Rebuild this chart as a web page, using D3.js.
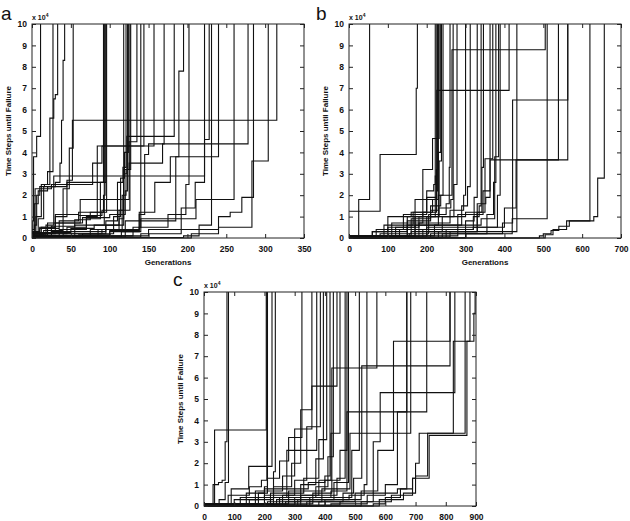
<!DOCTYPE html>
<html lang="en">
  <head>
    <meta charset="utf-8" />
    <title>Time steps until failure</title>
    <script type="text/javascript" src="https://cdn.jsdelivr.net/npm/d3@7"></script>
    <style>
      body { margin: 0; background: white; }
      text { font-family: "Liberation Sans", Arial, sans-serif; fill: #111; }
    </style>
  </head>
  <body>
    <script type="text/javascript">
// values in units of 10^4 time steps; a run ends when it reaches 10
var yTicks = d3.range(0, 11);
var xTicksA = d3.range(0, 351, 50);
var xTicksB = d3.range(0, 701, 100);
var xTicksC = d3.range(0, 901, 100);

var runsA = [
  [[0,0],[1,0.8],[2,3.8],[6,4.75],[11,10]],
  [[0,0.1],[3,0.6],[6,2.0],[10,2.4],[16,2.5],[20,3.1],[27,10]],
  [[0,0.2],[5,1.0],[12,2.5],[23,5.6],[28,6.5],[30,6.7],[33,10]],
  [[0,0.3],[8,0.9],[15,2.4],[30,2.6],[36,3.5],[38,5.5],[40,8.3],[42,10]],
  [[0,0.1],[12,0.5],[30,1.0],[45,2.7],[52,5.5],[315,10]],
  [[0,0.2],[20,0.7],[40,2.3],[48,4.2],[53,10]],
  [[0,0.05],[25,0.3],[55,0.6],[93,10]],
  [[0,0.1],[35,0.4],[70,0.9],[88,2.6],[95,10]],
  [[0,0.15],[18,0.6],[28,2.9],[222,10]],
  [[0,0.2],[45,0.5],[70,1.0],[84,4.3],[157,10]],
  [[0,0.1],[55,0.3],[95,0.8],[110,2.6],[117,3.3],[121,10]],
  [[0,0.05],[65,0.2],[105,1.0],[114,2.8],[119,4.0],[124,10]],
  [[0,0.1],[75,0.4],[112,1.3],[118,3.0],[122,4.75],[183,10]],
  [[0,0.1],[85,0.4],[116,2.0],[121,3.2],[127,10]],
  [[0,0.2],[95,0.6],[118,3.2],[125,4.5],[135,10]],
  [[0,0.05],[115,0.3],[138,1.1],[145,3.9],[150,4.4],[170,10]],
  [[0,0.1],[40,0.2],[90,0.4],[138,1.2],[158,2.6],[178,3.8],[189,7.8],[195,10]],
  [[0,0.3],[4,2.3],[25,2.5],[55,2.5],[78,3.5],[90,4.3],[144,10]],
  [[0,0.2],[30,0.7],[62,1.8],[125,3.5],[168,4.4],[278,10]],
  [[0,0.1],[130,0.5],[175,1.1],[198,2.5],[202,10]],
  [[0,0.05],[140,0.2],[192,1.4],[210,2.6],[222,4.6],[228,10]],
  [[0,0.1],[100,0.3],[140,0.9],[211,1.8],[260,10]],
  [[0,0.02],[195,0.1],[215,0.6],[231,10]],
  [[0,0.1],[150,0.4],[240,1.0],[255,1.2],[270,1.9],[285,10]],
  [[0,0],[205,0.2],[240,0.5],[283,3.6],[304,10]],
  [[0,0.05],[120,0.8],[185,3.8],[240,10]],
  [[0,0.1],[10,0.5],[30,1.1],[60,1.2],[92,2.0],[94,10]],
  [[0,0.4],[3,1.6],[8,2.2],[20,2.4],[45,2.6],[92,10]],
  [[0,0.15],[15,0.35],[40,0.7],[65,0.95],[100,1.1],[120,2.2],[123,10]],
  [[0,0.05],[20,0.25],[50,0.45],[80,0.6],[112,0.9],[118,10]],
  [[0,0.3],[10,0.45],[35,0.8],[60,1.05],[90,1.3],[126,10]],
  [[0,0.08],[60,0.15],[100,0.35],[138,0.5],[140,10]],
  [[0,0.25],[25,0.55],[55,0.85],[75,1.2],[96,10]]
];

var runsB = [
  [[0,1.25],[80,3.9],[173,7.0],[176,10]],
  [[0,0],[25,1.8],[53,10]],
  [[0,0.05],[60,0.3],[150,1.0],[190,3.2],[215,4.65],[232,10]],
  [[0,0.05],[70,0.4],[140,1.1],[200,2.2],[218,2.5],[222,10]],
  [[0,0.1],[90,0.6],[165,1.2],[215,1.8],[226,6.9],[412,10]],
  [[0,0],[100,0.5],[180,1.0],[222,2.9],[226,10]],
  [[0,0.02],[80,0.2],[160,0.9],[210,1.3],[230,4.0],[236,10]],
  [[0,0.05],[110,0.7],[190,1.2],[225,3.2],[230,10]],
  [[0,0.1],[120,0.5],[170,1.8],[230,2.0],[265,8.8],[505,10]],
  [[0,0],[130,0.4],[200,1.0],[232,3.6],[238,10]],
  [[0,0.05],[150,0.8],[210,1.5],[236,2.0],[242,10]],
  [[0,0.1],[155,0.2],[205,1.1],[250,1.6],[258,3.3],[260,10]],
  [[0,0],[170,0.6],[230,1.4],[262,1.8],[268,10]],
  [[0,0.05],[160,0.3],[240,1.0],[270,2.5],[278,10]],
  [[0,0.02],[200,0.5],[280,1.1],[345,2.2],[363,3.65],[563,10]],
  [[0,0.05],[180,0.7],[260,1.3],[295,2.0],[300,10]],
  [[0,0.1],[220,0.6],[290,1.5],[305,2.4],[312,10]],
  [[0,0],[230,0.3],[300,0.8],[322,1.9],[330,10]],
  [[0,0.02],[250,0.4],[320,1.0],[335,1.5],[340,10]],
  [[0,0.05],[260,0.3],[330,1.2],[342,3.3],[346,10]],
  [[0,0],[300,0.2],[395,0.7],[421,6.45],[563,10]],
  [[0,0.1],[280,0.5],[400,1.4],[430,3.65],[539,10]],
  [[0,0],[240,0.2],[420,0.9],[510,10]],
  [[0,0.05],[200,0.3],[330,1.6],[352,1.9],[363,10]],
  [[0,0.1],[170,1.0],[300,1.2],[350,3.7],[370,10]],
  [[0,0],[210,0.2],[355,1.1],[372,2.6],[378,10]],
  [[0,0.05],[150,0.6],[340,0.9],[375,3.8],[385,10]],
  [[0,0],[190,0.4],[320,0.5],[382,2.0],[389,10]],
  [[0,0.02],[300,0.3],[432,1.3],[432,10]],
  [[0,0],[490,0.1],[500,0.2],[520,0.35],[540,0.55],[567,0.8],[630,1.0],[640,2.8],[657,10]],
  [[0,0],[505,0.15],[525,0.4],[560,0.8],[620,10]],
  [[0,0.1],[60,0.3],[100,1.0],[160,1.2],[200,1.9],[225,2.2],[228,10]]
];

var runsC = [
  [[0,0],[30,1.0],[48,1.1],[60,1.2],[70,3.0],[76,10]],
  [[0,0.05],[35,3.55],[206,10]],
  [[0,0.02],[50,0.3],[70,1.1],[81,10]],
  [[0,0.05],[90,0.8],[148,1.85],[225,10]],
  [[0,0.1],[80,0.5],[150,0.9],[190,1.2],[208,10]],
  [[0,0],[100,0.3],[180,0.6],[200,0.9],[210,10]],
  [[0,0.05],[120,0.4],[200,0.8],[230,1.6],[236,10]],
  [[0,0.1],[140,0.6],[210,1.3],[250,2.1],[280,3.2],[324,10]],
  [[0,0],[150,0.3],[230,0.9],[290,2.0],[320,4.5],[357,10]],
  [[0,0.05],[170,0.7],[260,1.4],[300,3.6],[357,5.6],[440,10]],
  [[0,0.02],[180,0.4],[274,2.6],[373,10]],
  [[0,0.1],[200,0.5],[300,1.2],[340,3.7],[385,10]],
  [[0,0],[210,0.2],[320,1.0],[370,2.2],[395,10]],
  [[0,0.05],[220,0.6],[330,1.3],[380,3.1],[406,10]],
  [[0,0.1],[230,0.8],[345,1.1],[400,1.4],[417,10]],
  [[0,0],[240,0.3],[360,0.6],[423,6.45],[572,10]],
  [[0,0.05],[250,0.4],[370,0.9],[410,2.3],[428,10]],
  [[0,0.02],[260,0.5],[380,1.2],[420,3.4],[450,10]],
  [[0,0],[270,0.2],[390,0.8],[440,1.3],[467,10]],
  [[0,0.1],[280,0.7],[400,1.2],[450,2.6],[473,10]],
  [[0,0.05],[300,0.4],[420,0.7],[473,4.4],[671,10]],
  [[0,0],[310,0.3],[430,1.1],[478,10]],
  [[0,0.02],[320,0.5],[440,0.8],[483,3.4],[684,10]],
  [[0,0.05],[340,0.2],[460,0.6],[495,1.3],[522,6.55],[814,10]],
  [[0,0],[350,0.4],[489,2.6],[514,10]],
  [[0,0.1],[360,0.3],[480,0.5],[530,1.0],[539,10]],
  [[0,0],[380,0.2],[500,0.6],[560,3.0],[583,5.3],[830,10]],
  [[0,0.02],[400,0.3],[520,0.7],[575,2.6],[627,7.7],[814,10]],
  [[0,0],[420,0.1],[540,0.5],[600,1.0],[640,4.4],[737,10]],
  [[0,0],[520,0.2],[560,0.6],[640,0.8],[690,1.3],[700,2.0],[712,3.4],[825,7.7],[880,10]],
  [[0,0],[560,0.1],[600,0.4],[650,0.8],[671,10]],
  [[0,0],[580,0.3],[660,0.6],[700,1.4],[740,3.4],[864,10]],
  [[0,0.05],[450,0.2],[620,0.5],[690,1.3],[745,3.3],[870,7.7],[893,9.0],[897,10]]
];

var panels = [
  { id: "a", runs: runsA, xMax: 350, xTicks: xTicksA, left: 32, top: 24, labelX: 1, labelY: 20, xTitle: true },
  { id: "b", runs: runsB, xMax: 700, xTicks: xTicksB, left: 349, top: 24, labelX: 316, labelY: 20, xTitle: true },
  { id: "c", runs: runsC, xMax: 900, xTicks: xTicksC, left: 204, top: 292, labelX: 173, labelY: 286, xTitle: false }
];
var pw = 272, ph = 214;

var svg = d3.select("body")
            .append("svg")
            .attr("width", 630)
            .attr("height", 521);

panels.forEach(function(p) {
  var x = d3.scaleLinear().domain([0, p.xMax]).range([0, pw]);
  var y = d3.scaleLinear().domain([0, 10]).range([ph, 0]);
  var g = svg.append("g").attr("transform", "translate(" + p.left + "," + p.top + ")");

  var line = d3.line()
               .x(function(d) { return x(d[0]); })
               .y(function(d) { return y(d[1]); })
               .curve(d3.curveStepAfter);

  g.append("g")
   .selectAll("path")
   .data(p.runs)
   .enter()
   .append("path")
   .attr("d", line)
   .attr("fill", "none")
   .attr("stroke", "#111")
   .attr("stroke-width", 1.1);

  // ticks point inward on all four sides
  g.append("g")
    .attr("transform", "translate(0," + ph + ")")
    .call(d3.axisBottom(x).tickValues(p.xTicks).tickSizeInner(-4).tickSizeOuter(0).tickPadding(8));
  g.append("g")
    .call(d3.axisTop(x).tickValues(p.xTicks).tickSizeInner(-4).tickSizeOuter(0).tickFormat(""));
  g.append("g")
    .call(d3.axisLeft(y).tickValues(yTicks).tickSizeInner(-4).tickSizeOuter(0).tickPadding(5));
  g.append("g")
    .attr("transform", "translate(" + pw + ",0)")
    .call(d3.axisRight(y).tickValues(yTicks).tickSizeInner(-4).tickSizeOuter(0).tickFormat(""));

  g.selectAll(".domain").remove();
  g.selectAll(".tick line").attr("stroke", "#222");
  g.selectAll(".tick text")
   .attr("font-size", "8.5px")
   .attr("font-weight", "bold")
   .attr("fill", "#111");

  g.append("rect")
   .attr("width", pw)
   .attr("height", ph)
   .attr("fill", "none")
   .attr("stroke", "#222")
   .attr("stroke-width", 1);

  var mult = g.append("text")
              .attr("x", 0)
              .attr("y", -4)
              .attr("font-size", "7px")
              .attr("font-weight", "bold")
              .text("x 10");
  mult.append("tspan")
      .attr("font-size", "5px")
      .attr("dy", -3)
      .text("4");

  g.append("text")
   .attr("transform", "translate(-24," + ph / 2 + ") rotate(-90)")
   .attr("text-anchor", "middle")
   .attr("dominant-baseline", "central")
   .attr("font-size", "8px")
   .attr("font-weight", "bold")
   .text("Time Steps until Failure");

  if (p.xTitle) {
    g.append("text")
     .attr("x", pw / 2)
     .attr("y", ph + 27)
     .attr("text-anchor", "middle")
     .attr("font-size", "8px")
     .attr("font-weight", "bold")
     .text("Generations");
  }

  svg.append("text")
     .attr("x", p.labelX)
     .attr("y", p.labelY)
     .attr("font-size", "19px")
     .text(p.id);
});
    </script>
  </body>
</html>
